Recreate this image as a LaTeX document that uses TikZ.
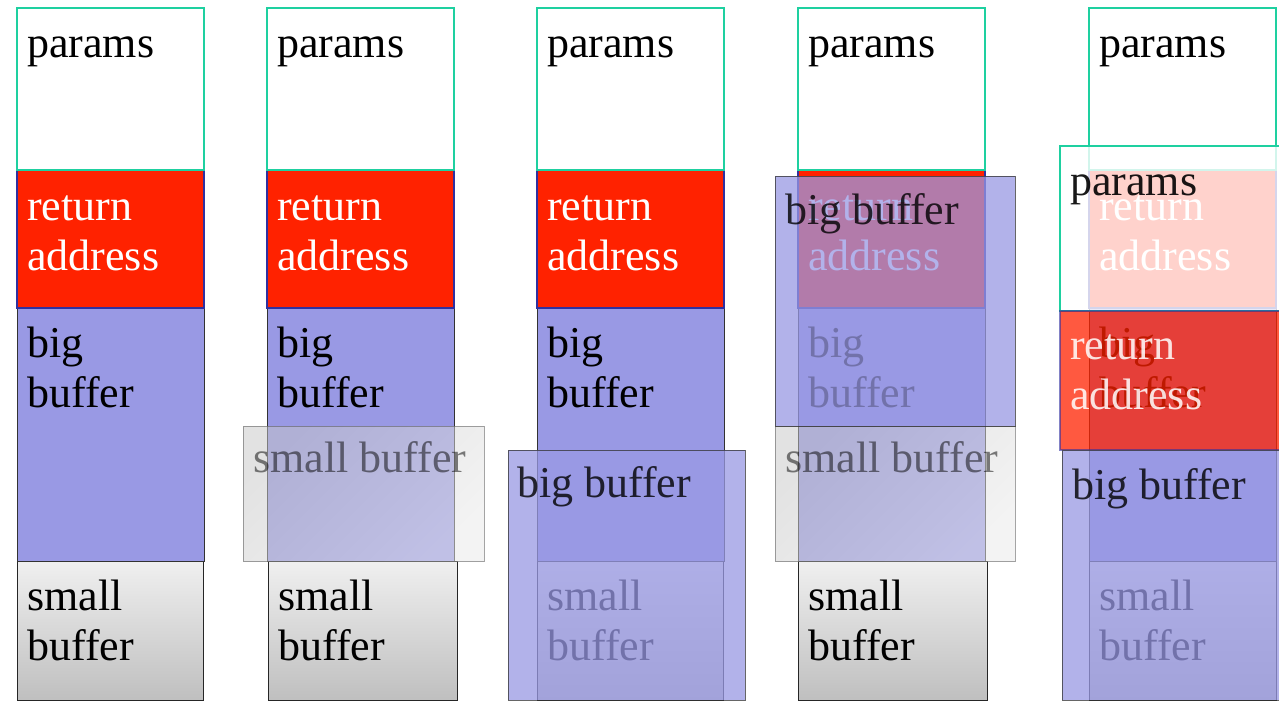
\documentclass[tikz,border=0pt]{standalone}
\usepackage{fontspec}
\setmainfont{Liberation Serif}
\definecolor{paramgreen}{RGB}{30,208,160}
\definecolor{retred}{RGB}{255,34,0}
\definecolor{retblue}{RGB}{48,48,160}
\definecolor{bufblue}{RGB}{153,153,228}
\tikzset{
  cell/.style={anchor=north west, inner sep=0pt, outer sep=0pt},
  paramsbox/.style={draw=paramgreen, line width=2pt, fill=white},
  retbox/.style={draw=retblue, line width=1.5pt, fill=retred},
  bigbox/.style={draw=black!80, line width=1pt, fill=bufblue},
  smallbox/.style={draw=black!85, line width=1pt, top color=black!6, bottom color=black!25},
  bigover/.style={bigbox, fill opacity=0.75, draw opacity=0.75},
  smallover/.style={draw=black!70, line width=1pt, draw opacity=0.5, fill opacity=0.5,
    top color=black!22, bottom color=black!9, shading angle=45},
  paramsover/.style={draw=paramgreen, line width=2pt, fill=white, fill opacity=0.8},
  retover/.style={draw=retblue, line width=1.5pt, draw opacity=0.6, fill=retred, fill opacity=0.75},
  lbl/.style={anchor=base west, inner sep=0pt, font=\fontsize{44}{50}\selectfont},
  darklbl/.style={lbl, text=black},
  lightlbl/.style={lbl, text=white},
}
% box: name, x1, y1, x2, y2, style
\newcommand\membox[6]{%
  \node[cell, #6, minimum width={(#4)-(#2)}, minimum height={(#5)-(#3)}] (#1) at (#2,#3) {};}
% label: name, x, baseline y, style, lines
\newcommand\memtext[5]{%
  \node[#4] (#1) at (#2,#3) {\begin{tabular}[t]{@{}l@{}}#5\end{tabular}};}
% a full stack frame: prefix, left x, small buffer left x, small buffer right x
\newcommand\callstack[4]{%
  \membox{#1small}{#3}{561}{#4}{700}{smallbox}
  \membox{#1big}{#2}{308}{#2+187}{561}{bigbox}
  \membox{#1ret}{#2}{170}{#2+187}{308}{retbox}
  \membox{#1params}{#2}{8}{#2+187}{170}{paramsbox}
  \memtext{#1paramst}{#2+10}{57}{darklbl}{params}
  \memtext{#1rett}{#2+10}{220}{lightlbl}{return\\address}
  \memtext{#1bigt}{#2+10}{357}{darklbl}{big\\buffer}
  \memtext{#1smallt}{#3+10}{610}{darklbl}{small\\buffer}}
\begin{document}
\begin{tikzpicture}[x=1pt,y=-1pt]
\clip (0,0) rectangle (1279,701);
\fill[white] (0,0) rectangle (1279,701);

% frame 1: initial stack
\callstack{a}{17}{17}{203}

% frame 2: small buffer moved
\callstack{b}{267}{268}{457}
\membox{bsmallov}{243}{426}{484}{561}{smallover}
\memtext{bsmallovt}{253}{472}{darklbl, text opacity=0.5}{small buffer}

% frame 3: big buffer overflows downwards
\callstack{c}{537}{537}{723}
\membox{cbigov}{508}{450}{745}{700}{bigover}
\memtext{cbigovt}{517}{497}{darklbl, text opacity=0.8}{big buffer}

% frame 4: big buffer over the return address
\callstack{d}{798}{798}{987}
\membox{dsmallov}{775}{426}{1015}{561}{smallover}
\memtext{dsmallovt}{785}{472}{darklbl, text opacity=0.5}{small buffer}
\membox{dbigov}{775}{176}{1015}{426}{bigover}
\memtext{dbigovt}{785}{224}{darklbl, text opacity=0.8}{big buffer}

% frame 5: whole frame shifted
\callstack{e}{1089}{1089}{1276}
\membox{eparamsov}{1060}{146}{1300}{311}{paramsover}
\memtext{eparamsovt}{1070}{195}{darklbl, text opacity=0.9}{params}
\membox{eretov}{1060}{311}{1300}{450}{retover}
\memtext{eretovt}{1070}{359}{lightlbl, text opacity=0.85}{return\\address}
\membox{ebigov}{1062}{450}{1300}{700}{bigover}
\memtext{ebigovt}{1072}{499}{darklbl, text opacity=0.8}{big buffer}
\end{tikzpicture}
\end{document}
